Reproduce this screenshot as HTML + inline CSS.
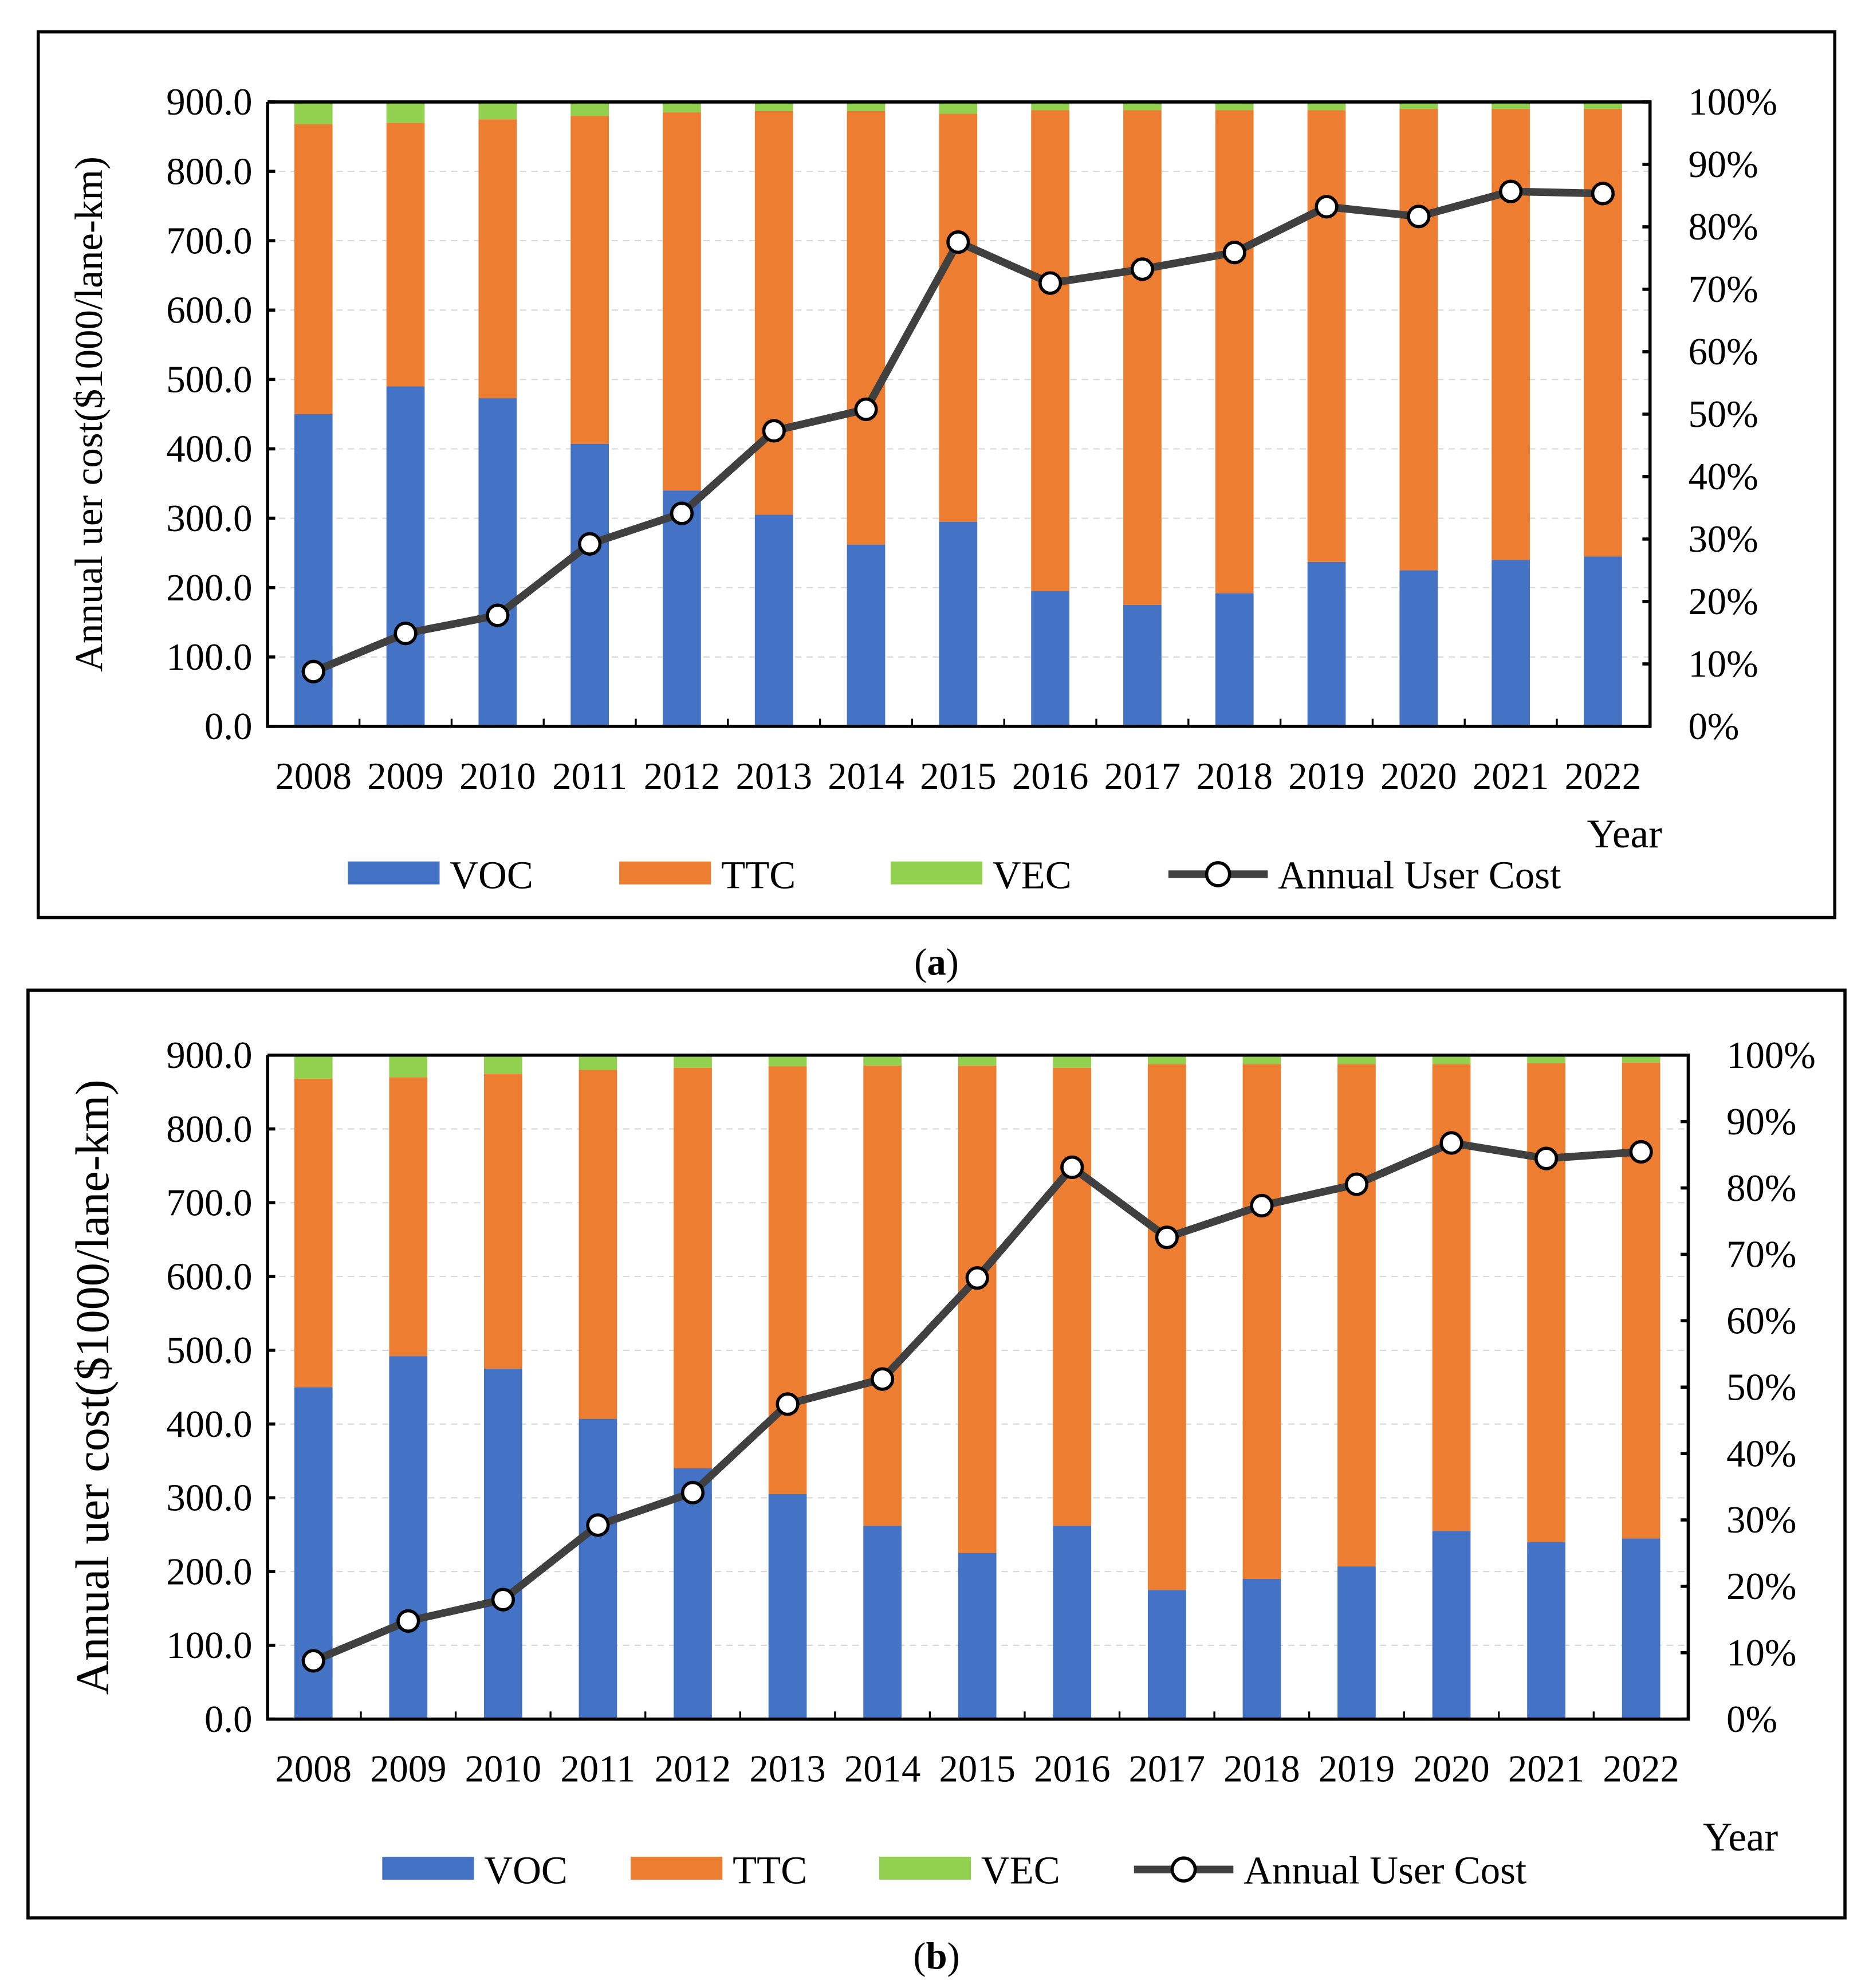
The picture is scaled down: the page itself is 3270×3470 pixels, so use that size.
<!DOCTYPE html>
<html><head><meta charset="utf-8"><style>
html,body{margin:0;padding:0;background:#fff;}
svg{display:block;}
text{font-family:"Liberation Serif","Times New Roman",serif;fill:#000;}
</style></head><body>
<svg id="chart" width="3270" height="3470" viewBox="0 0 1470 1560" preserveAspectRatio="none" xmlns="http://www.w3.org/2000/svg"></svg>
<script>
const years = ["2008","2009","2010","2011","2012","2013","2014","2015","2016","2017","2018","2019","2020","2021","2022"];
const yTicks = ["0.0","100.0","200.0","300.0","400.0","500.0","600.0","700.0","800.0","900.0"];
const pctTicks = ["0%","10%","20%","30%","40%","50%","60%","70%","80%","90%","100%"];
// Panel (a)
const vocA = [450,490,473,407,340,305,262,295,195,175,192,237,225,240,245];
const ttcTopA = [868,870,875,880,885,887,887,883,888,888,888,888,890,890,890];
const totalA = [900,900,900,900,900,900,900,900,900,900,900,900,900,900,900];
const userA = [79,134,160,263,307,426,457,698,639,659,683,749,735,771,768];
// Panel (b)
const vocB = [450,492,475,407,340,305,262,225,262,175,190,207,255,240,245];
const ttcTopB = [868,870,875,880,883,885,886,886,883,888,888,888,888,889,890];
const totalB = [900,900,900,900,900,900,900,900,900,900,900,900,900,900,900];
const userB = [79,133,162,263,307,427,461,598,748,653,696,725,781,760,769];

const NS="http://www.w3.org/2000/svg";
const svg=document.getElementById('chart');
function mk(tag,attrs,parent,txt){const e=document.createElementNS(NS,tag);for(const k in attrs)e.setAttribute(k,attrs[k]);if(txt!==undefined)e.textContent=txt;(parent||svg).appendChild(e);return e;}

function panel(cfg){
  const g=mk('g',{});
  
  
  const fr=mk('rect',{x:cfg.fx,y:cfg.fy,width:cfg.fw,height:cfg.fh,fill:'none',stroke:'#000','stroke-width':2.5},g);
  
  
  const L=cfg.x0,R=cfg.x1,T=cfg.y0,B=cfg.y1;
  const ys=v=>B-(v/900)*(B-T);
  const step=(cfg.lastC-cfg.firstC)/(years.length-1);
  const xs=i=>cfg.firstC+i*step;
  for(let i=1;i<yTicks.length-1;i++){
    const gl=mk('line',{x1:L,x2:R,y1:ys(i*100),y2:ys(i*100),stroke:'#d9d9d9','stroke-width':1,'stroke-dasharray':'5,4'},g);
    
    
  }
  const bw=30;
  years.forEach((y,i)=>{
    const segs=[[0,cfg.voc[i],'#4472c4','bar-voc'],[cfg.voc[i],cfg.ttc[i],'#ed7d31','bar-ttc'],[cfg.ttc[i],cfg.tot[i],'#92d050','bar-vec']];
    segs.forEach(s=>{
      const r=mk('rect',{x:xs(i)-bw/2,y:ys(s[1]),width:bw,height:ys(s[0])-ys(s[1]),fill:s[2]},g);
      
      
    });
  });
  const ax=mk('path',{d:`M${L},${T}V${B}H${R}V${T}H${L}`,fill:'none',stroke:'#000','stroke-width':2.5},g);
  
  
  yTicks.forEach((t,i)=>{
    const y=ys(i*100);
    mk('line',{x1:L,x2:L+6,y1:y,y2:y,stroke:'#000','stroke-width':2.5},g);
    const tx=mk('text',{x:L-12,y:y+10,'text-anchor':'end','font-size':30},g,t);
    
    
  });
  pctTicks.forEach((t,i)=>{
    const y=B-(i/10)*(B-T);
    mk('line',{x1:R-6,x2:R,y1:y,y2:y,stroke:'#000','stroke-width':2.5},g);
    const tx=mk('text',{x:R+30,y:y+10,'font-size':30},g,t);
    
    
  });
  for(let i=0;i<=years.length;i++){
    const x=cfg.firstC-step/2+i*step;
    if(x>L+2&&x<R-2) mk('line',{x1:x,x2:x,y1:B,y2:B-6,stroke:'#000','stroke-width':1.5},g);
  }
  years.forEach((y,i)=>{
    const tx=mk('text',{x:xs(i),y:B+49,'text-anchor':'middle','font-size':30},g,y);
    
    
  });
  const pts=cfg.user.map((v,i)=>xs(i)+','+ys(v)).join(' ');
  const pl=mk('polyline',{points:pts,fill:'none',stroke:'#404040','stroke-width':6,'stroke-linejoin':'round'},g);
  
  
  cfg.user.forEach((v,i)=>{
    const c=mk('circle',{cx:xs(i),cy:ys(v),r:8,fill:'#fff',stroke:'#000','stroke-width':2.5},g);
    
    
  });
  const yt=mk('text',{transform:`translate(${cfg.ytx},${(T+B)/2}) rotate(-90)`,'text-anchor':'middle','font-size':cfg.ytSize},g,'Annual uer cost($1000/lane-km)');
  
  
  const xt=mk('text',{x:cfg.yearX,y:cfg.yearY,'text-anchor':'middle','font-size':32},g,'Year');
  
  
  const ly=cfg.legY; const lx=cfg.legX;
  const items=[['VOC','#4472c4',0],['TTC','#ed7d31',cfg.legStep],['VEC','#92d050',cfg.legStep*2]];
  items.forEach(it=>{
    const lg=mk('g',{},g);
    
    
    mk('rect',{x:lx+it[2],y:ly-10,width:72,height:18,fill:it[1]},lg);
    mk('text',{x:lx+it[2]+80,y:ly+11,'font-size':31},lg,it[0]);
  });
  const lg=mk('g',{},g);
  
  
  const sx=lx+cfg.legStep*3+5;
  mk('line',{x1:sx,x2:sx+78,y1:ly,y2:ly,stroke:'#404040','stroke-width':6},lg);
  mk('circle',{cx:sx+39,cy:ly,r:9,fill:'#fff',stroke:'#000','stroke-width':2.5},lg);
  mk('text',{x:sx+86,y:ly+11,'font-size':31},lg,'Annual User Cost');
  const cap=mk('text',{x:735,y:cfg.capY,'text-anchor':'middle','font-size':30},null);
  
  
  mk('tspan',{},cap,'(');
  mk('tspan',{'font-weight':'bold'},cap,cfg.cap);
  mk('tspan',{},cap,')');
}
panel({name:'panel-a',fx:30,fy:25,fw:1410,fh:695,x0:210,x1:1295,y0:80,y1:570,firstC:246,lastC:1258,
  voc:vocA,ttc:ttcTopA,tot:totalA,user:userA,ytx:80,ytSize:31,yearX:1275,yearY:665,legX:273,legY:686,legStep:213,capY:765,cap:'a'});
panel({name:'panel-b',fx:22,fy:777,fw:1426,fh:728,x0:210,x1:1325,y0:828,y1:1349,firstC:246,lastC:1288,
  voc:vocB,ttc:ttcTopB,tot:totalB,user:userB,ytx:85,ytSize:37,yearX:1366,yearY:1452,legX:300,legY:1467,legStep:195,capY:1545,cap:'b'});
</script>
</body></html>
